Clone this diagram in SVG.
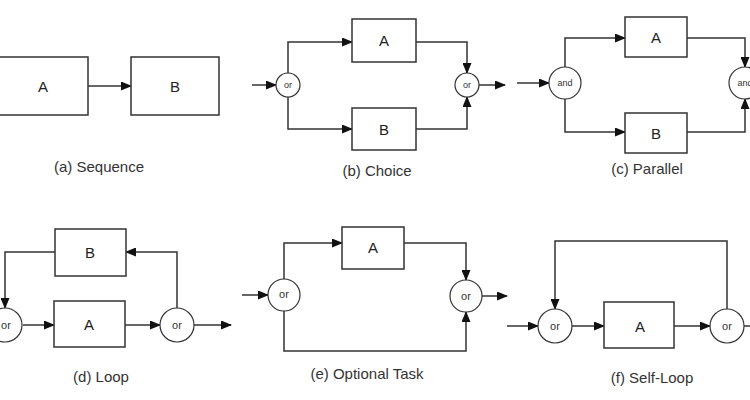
<svg xmlns="http://www.w3.org/2000/svg" width="750" height="400" viewBox="0 0 750 400">
<style>
.box{fill:#fff;stroke:#333;stroke-width:1.5}
.gate{fill:#fff;stroke:#333;stroke-width:1.2}
.ln{fill:none;stroke:#333;stroke-width:1.5;marker-end:url(#ah)}
.lb{font-family:"Liberation Sans",Arial,sans-serif;font-size:15px;fill:#222;text-anchor:middle;dominant-baseline:central}
.gt{font-family:"Liberation Sans",Arial,sans-serif;font-size:9px;fill:#333;text-anchor:middle;dominant-baseline:central}
.cap{font-family:"Liberation Sans",Arial,sans-serif;font-size:15px;fill:#333;text-anchor:middle;dominant-baseline:central}
</style>
<defs>
<marker id="ah" markerWidth="11" markerHeight="9" refX="10" refY="4.5" orient="auto" markerUnits="userSpaceOnUse">
<path d="M0,0 L11,4.5 L0,9 z" fill="#111"/>
</marker>
</defs>
<rect width="750" height="400" fill="#fff"/>
<g id="connectors">
<path class="ln" d="M88,86 H131"/>
<path class="ln" d="M252,85 H276"/>
<path class="ln" d="M288,73 V42 H352"/>
<path class="ln" d="M288,97 V129 H352"/>
<path class="ln" d="M416,42 H467 V73"/>
<path class="ln" d="M416,129 H467 V97"/>
<path class="ln" d="M479,85 H505"/>
<path class="ln" d="M517,83 H549"/>
<path class="ln" d="M565,67 V38 H625"/>
<path class="ln" d="M565,99 V132 H625"/>
<path class="ln" d="M687,38 H745 V67"/>
<path class="ln" d="M687,132 H745 V99"/>
<path class="ln" d="M23,325 H54"/>
<path class="ln" d="M125,325 H160"/>
<path class="ln" d="M177,308 V252 H126"/>
<path class="ln" d="M55,252 H5 V308"/>
<path class="ln" d="M194,325 H231"/>
<path class="ln" d="M242,295 H268"/>
<path class="ln" d="M284,279 V243 H342"/>
<path class="ln" d="M404,243 H466 V280"/>
<path class="ln" d="M284,311 V351 H466 V312"/>
<path class="ln" d="M482,296 H507"/>
<path class="ln" d="M507,326 H538"/>
<path class="ln" d="M572,326 H604"/>
<path class="ln" d="M674,326 H710"/>
<path class="ln" d="M727,309 V241 H555 V309"/>
<path class="ln" d="M744,326 H760"/>
</g>
<g id="a-A"><rect class="box" x="-2" y="57" width="90" height="58"/><text class="lb" x="43" y="86">A</text></g>
<g id="a-B"><rect class="box" x="131" y="57" width="88" height="58"/><text class="lb" x="175" y="86">B</text></g>
<text class="cap" x="99" y="166">(a) Sequence</text>

<g id="b-or1"><circle class="gate" cx="288" cy="85" r="12"/><text class="gt" x="288" y="85">or</text></g>
<g id="b-A"><rect class="box" x="352" y="19" width="64" height="43"/><text class="lb" x="384" y="40">A</text></g>
<g id="b-B"><rect class="box" x="352" y="108" width="64" height="42"/><text class="lb" x="384" y="129">B</text></g>
<g id="b-or2"><circle class="gate" cx="467" cy="85" r="12"/><text class="gt" x="467" y="85">or</text></g>
<text class="cap" x="377" y="170">(b) Choice</text>

<g id="c-and1"><circle class="gate" cx="565" cy="83" r="16"/><text class="gt" x="565" y="83">and</text></g>
<g id="c-A"><rect class="box" x="625" y="17" width="62" height="40"/><text class="lb" x="656" y="37">A</text></g>
<g id="c-B"><rect class="box" x="625" y="113" width="62" height="40"/><text class="lb" x="656" y="133">B</text></g>
<g id="c-and2"><circle class="gate" cx="745" cy="83" r="16"/><text class="gt" x="745" y="83">and</text></g>
<text class="cap" x="647" y="168">(c) Parallel</text>

<g id="d-or1"><circle class="gate" cx="5" cy="325" r="17"/><text class="gt" x="6" y="325" style="font-size:11px">or</text></g>
<g id="d-B"><rect class="box" x="55" y="229" width="71" height="47"/><text class="lb" x="90" y="252">B</text></g>
<g id="d-A"><rect class="box" x="54" y="301" width="71" height="46"/><text class="lb" x="89" y="324">A</text></g>
<g id="d-or2"><circle class="gate" cx="177" cy="325" r="17"/><text class="gt" x="177" y="325" style="font-size:11px">or</text></g>
<text class="cap" x="101" y="376">(d) Loop</text>

<g id="e-or1"><circle class="gate" cx="284" cy="295" r="16"/><text class="gt" x="284" y="294" style="font-size:11px">or</text></g>
<g id="e-A"><rect class="box" x="342" y="227" width="62" height="42"/><text class="lb" x="373" y="247">A</text></g>
<g id="e-or2"><circle class="gate" cx="466" cy="296" r="16"/><text class="gt" x="466" y="296" style="font-size:11px">or</text></g>
<text class="cap" x="367" y="373">(e) Optional Task</text>

<g id="f-or1"><circle class="gate" cx="555" cy="326" r="17"/><text class="gt" x="555" y="326" style="font-size:11px">or</text></g>
<g id="f-A"><rect class="box" x="604" y="302" width="70" height="46"/><text class="lb" x="640" y="326">A</text></g>
<g id="f-or2"><circle class="gate" cx="727" cy="326" r="17"/><text class="gt" x="727" y="326" style="font-size:11px">or</text></g>
<text class="cap" x="652" y="377">(f) Self-Loop</text>
</svg>
